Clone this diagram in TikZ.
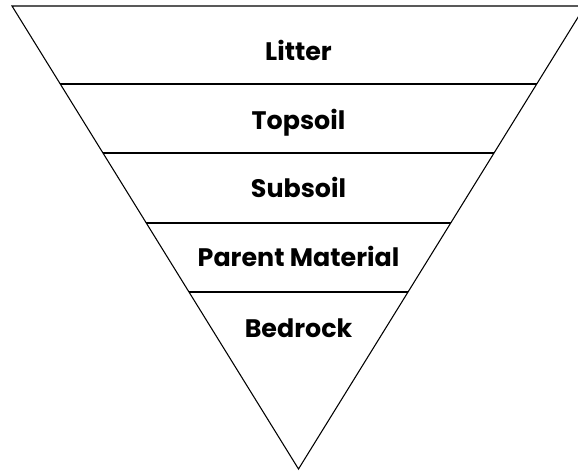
\documentclass[tikz,border=0pt]{standalone}
\usepackage{fontspec}
\setmainfont{Poppins}
\usetikzlibrary{calc}

\begin{document}
\begin{tikzpicture}[x=0.75pt, y=-0.75pt, line width=0.8pt,
    layer/.style={anchor=base, font=\fontsize{19}{22}\selectfont\bfseries}]
    \useasboundingbox (0,0) rectangle (578,473);
    \clip (0,0) rectangle (578,473);
    \coordinate (tl) at (12,6);
    \coordinate (tr) at (585,6);
    \coordinate (apex) at (298.5,469);

    \draw (tl) -- (tr) -- (apex) -- cycle;
    \draw ($(tl)!0.1685!(apex)$) -- ($(tr)!0.1685!(apex)$);
    \draw ($(tl)!0.3175!(apex)$) -- ($(tr)!0.3175!(apex)$);
    \draw ($(tl)!0.4687!(apex)$) -- ($(tr)!0.4687!(apex)$);
    \draw ($(tl)!0.6177!(apex)$) -- ($(tr)!0.6177!(apex)$);

    \node[layer] (litter) at (298.5,61) {Litter};
    \node[layer] (topsoil) at (298.5,130) {Topsoil};
    \node[layer] (subsoil) at (298.5,198) {Subsoil};
    \node[layer] (parent) at (298.5,267) {Parent Material};
    \node[layer] (bedrock) at (298.5,338) {Bedrock};
\end{tikzpicture}
\end{document}
